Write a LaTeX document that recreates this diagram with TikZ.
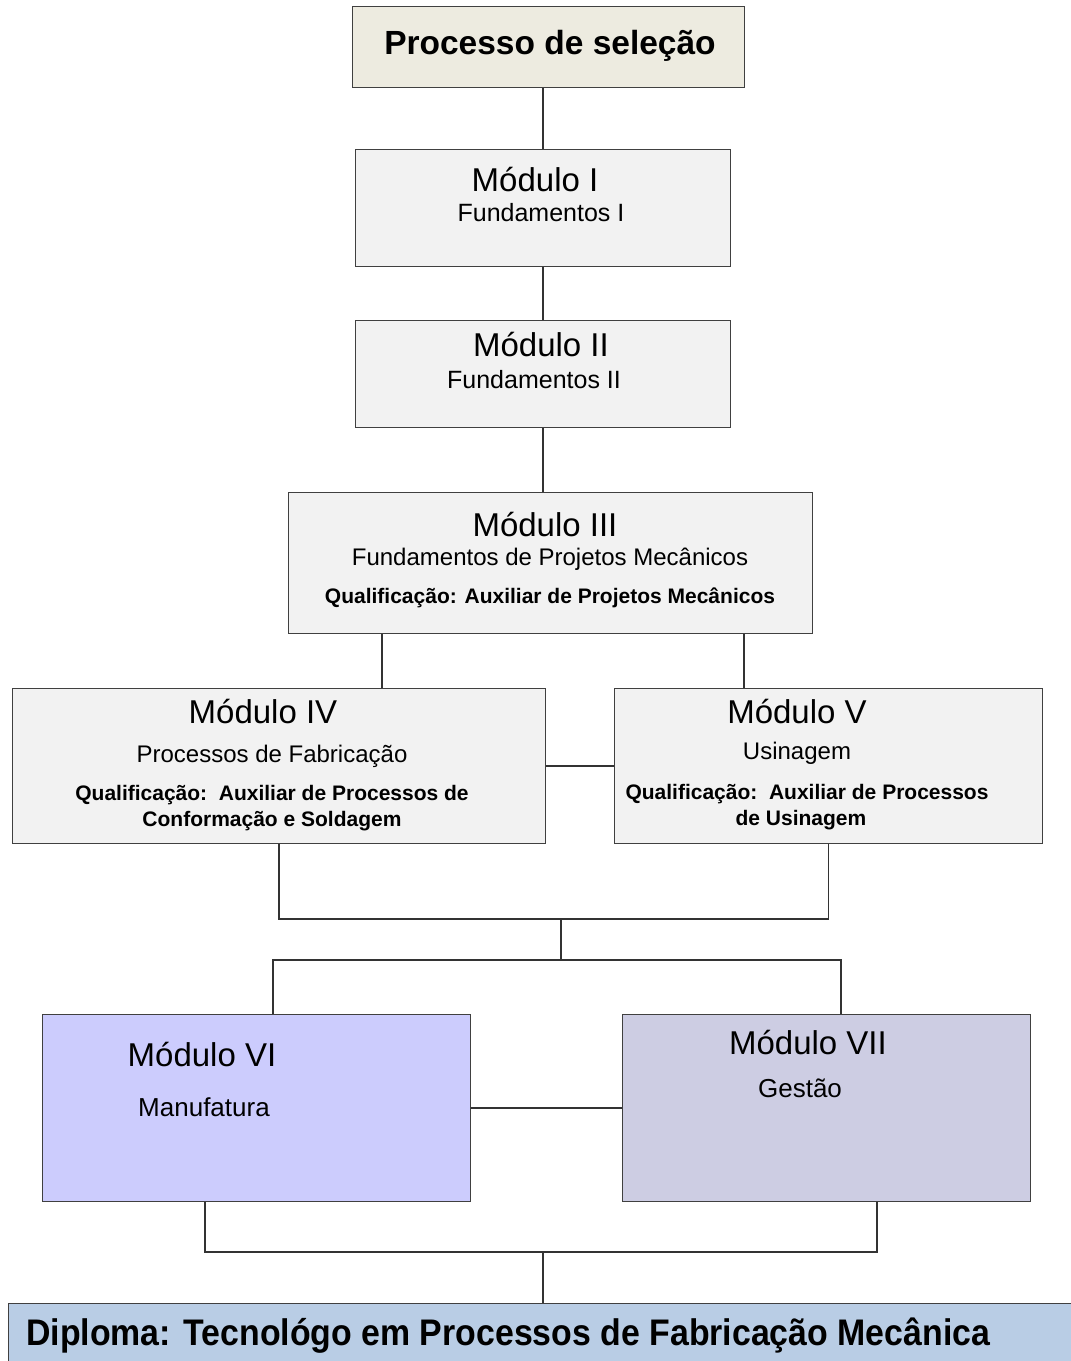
\documentclass[tikz,border=0pt]{standalone}
\usepackage{fontspec}
\setmainfont{Liberation Sans}
\newfontfamily\narrowfont[FakeStretch=0.915]{Liberation Sans}
\definecolor{selbeige}{RGB}{237,235,224}
\definecolor{modgray}{RGB}{242,242,242}
\definecolor{modblue}{RGB}{204,204,253}
\definecolor{modlilac}{RGB}{205,205,227}
\definecolor{dipblue}{RGB}{185,205,229}

\begin{document}
\begin{tikzpicture}[
  x=1pt, y=-1pt,
  modbox/.style={
    draw=black!75,
    fill=modgray,
    line width=1.3pt,
    inner sep=0pt,
    anchor=north west
  },
  modtitle/.style={
    font=\fontsize{33}{36}\selectfont,
    inner sep=0pt,
    anchor=base
  },
  modsub/.style={
    font=\fontsize{24}{28}\selectfont,
    inner sep=0pt,
    anchor=base
  },
  qualif/.style={
    font=\bfseries\fontsize{21}{26}\selectfont,
    inner sep=0pt,
    anchor=base
  },
  link/.style={
    draw=black!80,
    line width=1.4pt
  },
]
\useasboundingbox (0,0) rectangle (1071,1361);

% boxes
\node[modbox, fill=selbeige, minimum width=392pt, minimum height=81pt] (sel) at (352,6) {};
\node[modbox, minimum width=375pt, minimum height=117pt] (m1) at (355,149) {};
\node[modbox, minimum width=375pt, minimum height=107pt] (m2) at (355,320) {};
\node[modbox, minimum width=524pt, minimum height=141pt] (m3) at (288,492) {};
\node[modbox, minimum width=533pt, minimum height=155pt] (m4) at (12,688) {};
\node[modbox, minimum width=428pt, minimum height=155pt] (m5) at (614,688) {};
\node[modbox, fill=modblue, minimum width=428pt, minimum height=187pt] (m6) at (42,1014) {};
\node[modbox, fill=modlilac, minimum width=408pt, minimum height=187pt] (m7) at (622,1014) {};
\node[modbox, fill=dipblue, minimum width=1080pt, minimum height=70pt] (dip) at (8,1303) {};

% texts
\node[modtitle, font=\bfseries\fontsize{33.5}{36}\selectfont] (seltxt) at (550,54) {Processo de seleção};
\node[modtitle] (m1t) at (535,191) {Módulo I};
\node[modsub, font=\fontsize{25}{28}\selectfont] (m1s) at (541,221) {Fundamentos I};
\node[modtitle] (m2t) at (541,356) {Módulo II};
\node[modsub, font=\fontsize{25}{28}\selectfont] (m2s) at (534,388) {Fundamentos II};
\node[modtitle] (m3t) at (545,536) {Módulo III};
\node[modsub] (m3s) at (550,565) {Fundamentos de Projetos Mecânicos};
\node[qualif] (m3q) at (550,603) {Qualificação: Auxiliar de Projetos Mecânicos};
\node[modtitle] (m4t) at (263,723) {Módulo IV};
\node[modsub] (m4s) at (272,762) {Processos de Fabricação};
\node[qualif] (m4q1) at (272,800) {Qualificação:\ \ Auxiliar de Processos de};
\node[qualif] (m4q2) at (272,826) {Conformação e Soldagem};
\node[modtitle] (m5t) at (797,723) {Módulo V};
\node[modsub] (m5s) at (797,759) {Usinagem};
\node[qualif] (m5q1) at (807,799) {Qualificação:\ \ Auxiliar de Processos};
\node[qualif] (m5q2) at (801,825) {de Usinagem};
\node[modtitle] (m6t) at (202,1066) {Módulo VI};
\node[modsub, font=\fontsize{26}{30}\selectfont] (m6s) at (204,1116) {Manufatura};
\node[modtitle] (m7t) at (808,1054) {Módulo VII};
\node[modsub, font=\fontsize{26}{30}\selectfont] (m7s) at (800,1097) {Gestão};
\node[inner sep=0pt, anchor=base west, font=\narrowfont\bfseries\fontsize{37}{40}\selectfont] (diptxt) at (26,1345) {Diploma: Tecnológo em Processos de Fabricação Mecânica};

% junctions
\coordinate (c4) at (382,660);
\coordinate (c5) at (744,660);
\coordinate (j45) at (561,919);
\coordinate (j67) at (561,960);
\coordinate (c6) at (273,960);
\coordinate (c7) at (841,960);
\coordinate (c6b) at (205,1252);
\coordinate (c7b) at (877,1252);
\coordinate (jd) at (543,1252);

% connectors
\draw[link] (m1.north |- sel.south) -- (m1.north);
\draw[link] (m1.south) -- (m2.north);
\draw[link] (m2.south) -- (m2.south |- m3.north);
\draw[link] (m3.south -| c4) -- (m4.north -| c4);
\draw[link] (m3.south -| c5) -- (m5.north -| c5);
\draw[link] (m4.east) -- (m5.west);
\draw[link] (m4.south) |- (j45 -| m5.south) -- (m5.south);
\draw[link] (j45) -- (j67);
\draw[link] (m6.north -| c6) -- (c6) -- (c7) -- (m7.north -| c7);
\draw[link] (m6.east) -- (m7.west);
\draw[link] (m6.south -| c6b) -- (c6b) -- (c7b) -- (m7.south -| c7b);
\draw[link] (jd) -- (dip.north -| jd);
\end{tikzpicture}
\end{document}
